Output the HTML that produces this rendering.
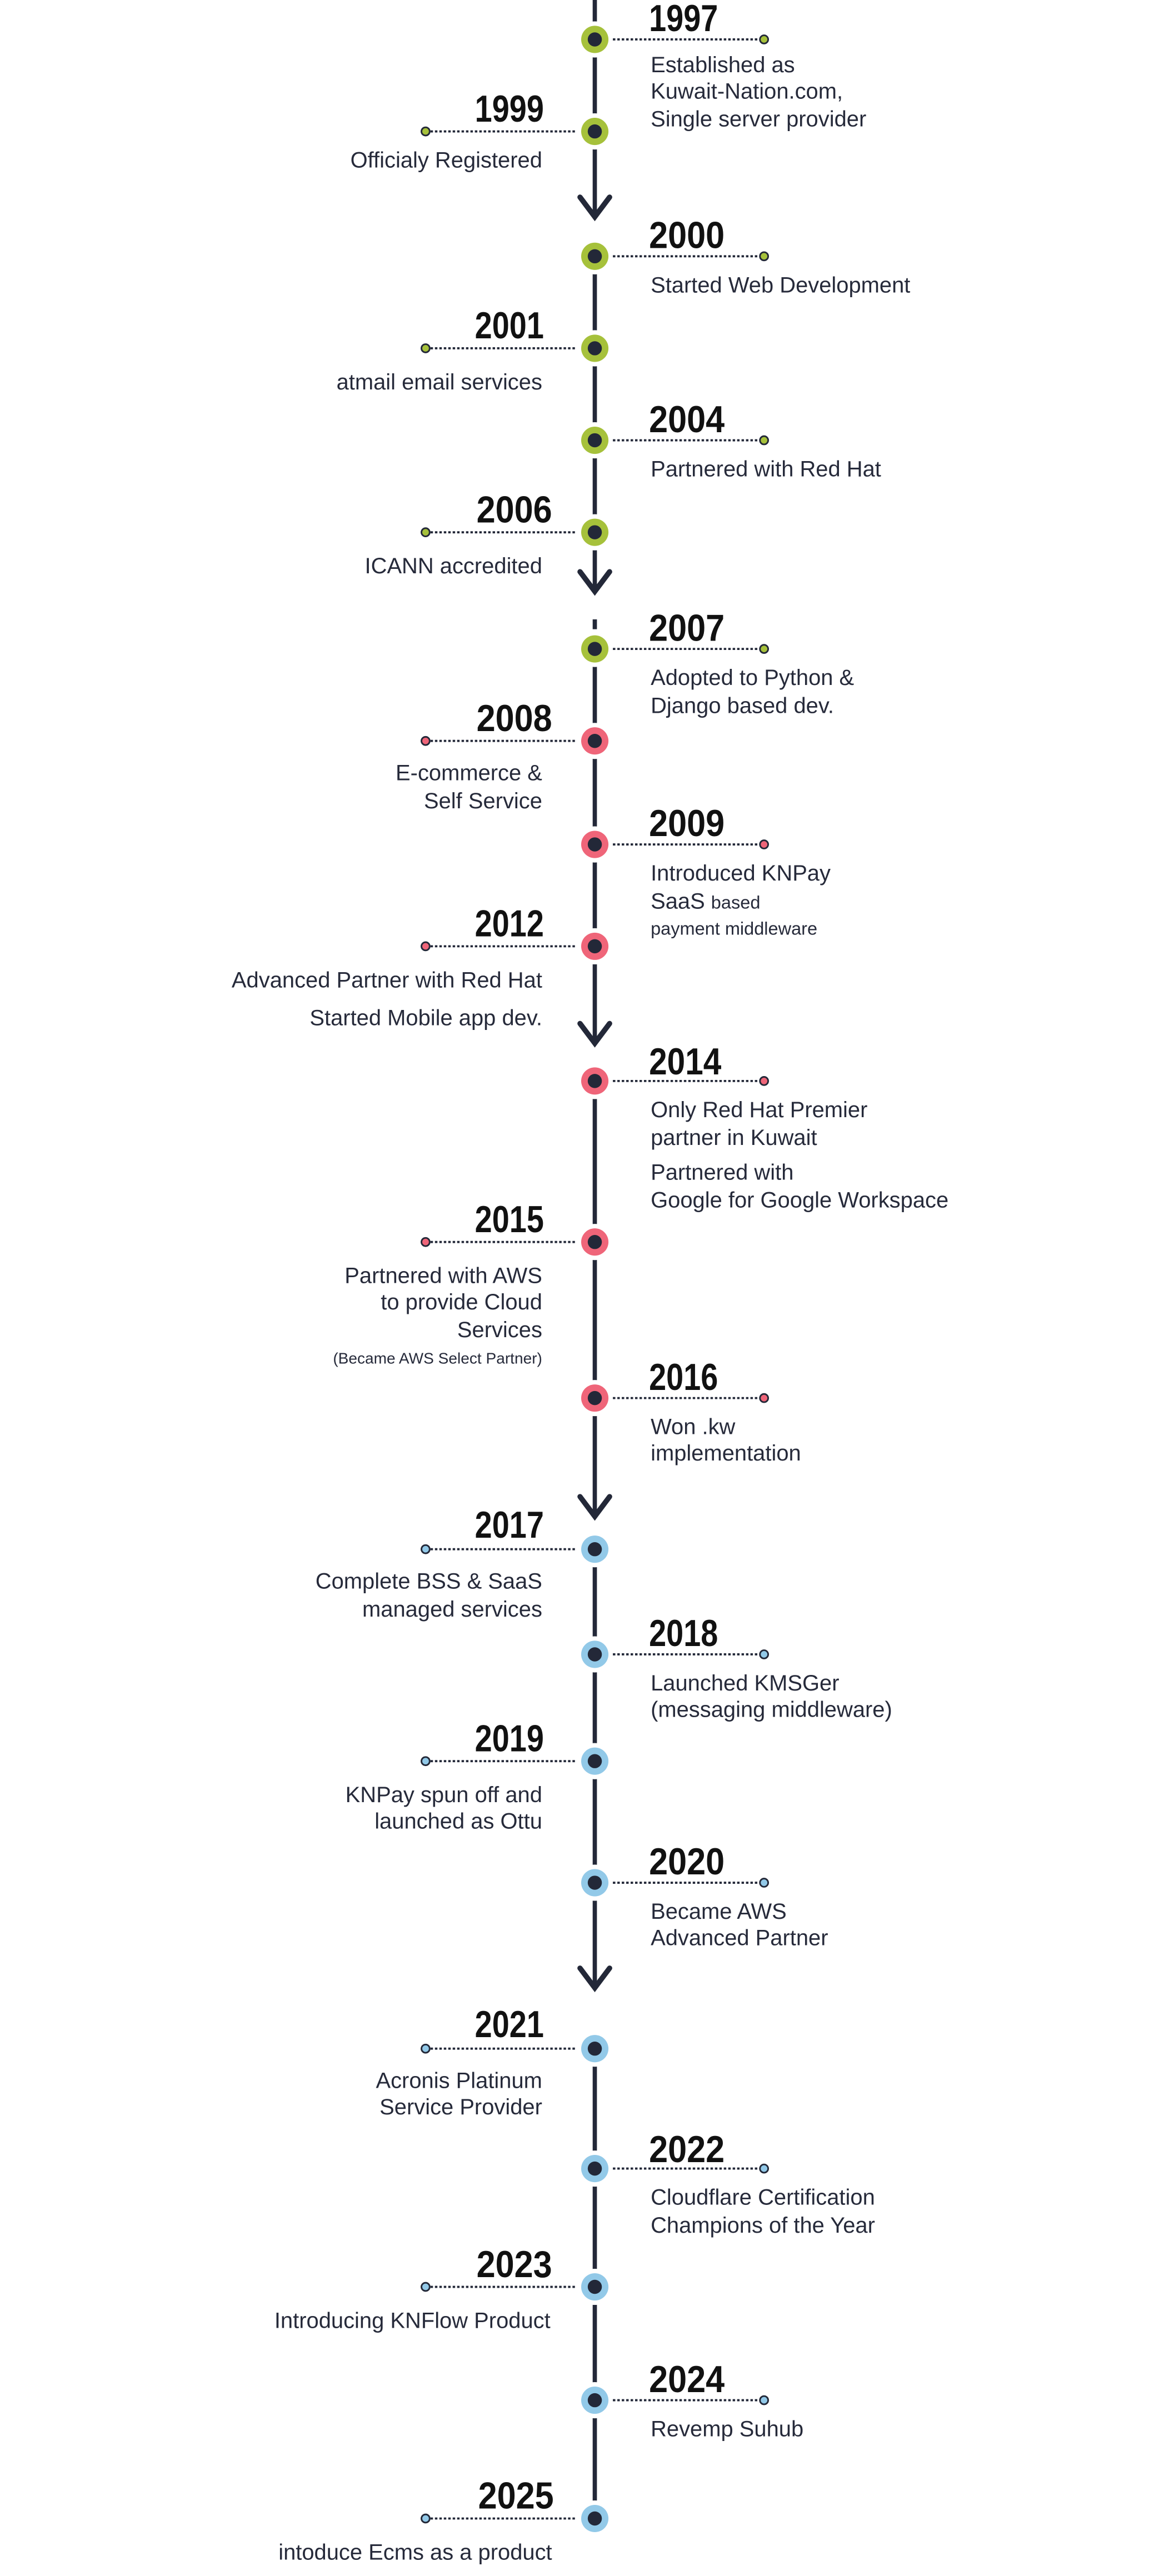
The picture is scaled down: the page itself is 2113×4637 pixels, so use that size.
<!DOCTYPE html>
<html><head><meta charset="utf-8"><style>
html,body{margin:0;padding:0;background:#fff;}
svg{display:block;}
text{font-family:"Liberation Sans",sans-serif;fill:#262a3a;}
.y{font-weight:bold;font-size:23px;fill:#111;}
.d{font-size:13.5px;}
.s{font-size:11px;}
.xs{font-size:9.5px;}
.dl{stroke:#232838;stroke-width:1.3;stroke-dasharray:1.5 1.2;}
.w{fill:#fff;}
.k{fill:#232838;}
.G{fill:#a6c13b;}
.R{fill:#ef6579;}
.B{fill:#92c9e8;}
.e{stroke:#232838;stroke-width:1;}
.rt{text-anchor:end;}
</style></head><body>
<svg width="2113" height="4637" viewBox="0 0 714.5 1568" preserveAspectRatio="none" xmlns="http://www.w3.org/2000/svg">
<g stroke="#232838" stroke-width="2.6" fill="none">
<line x1="362" y1="0" x2="362" y2="131"/>
<line x1="362" y1="146" x2="362" y2="359"/>
<line x1="362" y1="377" x2="362" y2="383"/>
<line x1="362" y1="395" x2="362" y2="634"/>
<line x1="362" y1="648" x2="362" y2="922"/>
<line x1="362" y1="935" x2="362" y2="1209"/>
<line x1="362" y1="1237" x2="362" y2="1540"/>
</g>
<g stroke="#232838" stroke-width="3.2" fill="none" stroke-linecap="round" stroke-linejoin="miter">
<polyline points="353,120 362,132 371,120"/>
<polyline points="353,348 362,360 371,348"/>
<polyline points="353,623 362,635 371,623"/>
<polyline points="353,911 362,923 371,911"/>
<polyline points="353,1198 362,1210 371,1198"/>
</g>

<!-- 1997 -->
<circle class="w" cx="362" cy="24" r="11"/><line class="dl" x1="373" y1="24" x2="462" y2="24"/>
<circle class="G" cx="362" cy="24" r="8.3"/><circle class="k" cx="362" cy="24" r="4.3"/><circle class="G e" cx="465" cy="24" r="2.5"/>
<text class="y" x="395" y="19" textLength="42" lengthAdjust="spacingAndGlyphs">1997</text>
<text class="d" x="396" y="44">Established as</text>
<text class="d" x="396" y="60">Kuwait-Nation.com,</text>
<text class="d" x="396" y="77">Single server provider</text>

<!-- 1999 -->
<circle class="w" cx="362" cy="80" r="11"/><line class="dl" x1="262" y1="80" x2="351" y2="80"/>
<circle class="G" cx="362" cy="80" r="8.3"/><circle class="k" cx="362" cy="80" r="4.3"/><circle class="G e" cx="259" cy="80" r="2.5"/>
<text class="y rt" x="331" y="74" textLength="42" lengthAdjust="spacingAndGlyphs">1999</text>
<text class="d rt" x="330" y="102">Officialy Registered</text>

<!-- 2000 -->
<circle class="w" cx="362" cy="156" r="11"/><line class="dl" x1="373" y1="156" x2="462" y2="156"/>
<circle class="G" cx="362" cy="156" r="8.3"/><circle class="k" cx="362" cy="156" r="4.3"/><circle class="G e" cx="465" cy="156" r="2.5"/>
<text class="y" x="395" y="151" textLength="46" lengthAdjust="spacingAndGlyphs">2000</text>
<text class="d" x="396" y="178">Started Web Development</text>

<!-- 2001 -->
<circle class="w" cx="362" cy="212" r="11"/><line class="dl" x1="262" y1="212" x2="351" y2="212"/>
<circle class="G" cx="362" cy="212" r="8.3"/><circle class="k" cx="362" cy="212" r="4.3"/><circle class="G e" cx="259" cy="212" r="2.5"/>
<text class="y rt" x="331" y="206" textLength="42" lengthAdjust="spacingAndGlyphs">2001</text>
<text class="d rt" x="330" y="237">atmail email services</text>

<!-- 2004 -->
<circle class="w" cx="362" cy="268" r="11"/><line class="dl" x1="373" y1="268" x2="462" y2="268"/>
<circle class="G" cx="362" cy="268" r="8.3"/><circle class="k" cx="362" cy="268" r="4.3"/><circle class="G e" cx="465" cy="268" r="2.5"/>
<text class="y" x="395" y="263" textLength="46" lengthAdjust="spacingAndGlyphs">2004</text>
<text class="d" x="396" y="290">Partnered with Red Hat</text>

<!-- 2006 -->
<circle class="w" cx="362" cy="324" r="11"/><line class="dl" x1="262" y1="324" x2="351" y2="324"/>
<circle class="G" cx="362" cy="324" r="8.3"/><circle class="k" cx="362" cy="324" r="4.3"/><circle class="G e" cx="259" cy="324" r="2.5"/>
<text class="y rt" x="336" y="318" textLength="46" lengthAdjust="spacingAndGlyphs">2006</text>
<text class="d rt" x="330" y="349">ICANN accredited</text>

<!-- 2007 -->
<circle class="w" cx="362" cy="395" r="11"/><line class="dl" x1="373" y1="395" x2="462" y2="395"/>
<circle class="G" cx="362" cy="395" r="8.3"/><circle class="k" cx="362" cy="395" r="4.3"/><circle class="G e" cx="465" cy="395" r="2.5"/>
<text class="y" x="395" y="390" textLength="46" lengthAdjust="spacingAndGlyphs">2007</text>
<text class="d" x="396" y="417">Adopted to Python &amp;</text>
<text class="d" x="396" y="434">Django based dev.</text>

<!-- 2008 -->
<circle class="w" cx="362" cy="451" r="11"/><line class="dl" x1="262" y1="451" x2="351" y2="451"/>
<circle class="R" cx="362" cy="451" r="8.3"/><circle class="k" cx="362" cy="451" r="4.3"/><circle class="R e" cx="259" cy="451" r="2.5"/>
<text class="y rt" x="336" y="445" textLength="46" lengthAdjust="spacingAndGlyphs">2008</text>
<text class="d rt" x="330" y="475">E-commerce &amp;</text>
<text class="d rt" x="330" y="492">Self Service</text>

<!-- 2009 -->
<circle class="w" cx="362" cy="514" r="11"/><line class="dl" x1="373" y1="514" x2="462" y2="514"/>
<circle class="R" cx="362" cy="514" r="8.3"/><circle class="k" cx="362" cy="514" r="4.3"/><circle class="R e" cx="465" cy="514" r="2.5"/>
<text class="y" x="395" y="509" textLength="46" lengthAdjust="spacingAndGlyphs">2009</text>
<text class="d" x="396" y="536">Introduced KNPay</text>
<text class="d" x="396" y="553">SaaS <tspan class="s">based</tspan></text>
<text class="s" x="396" y="569">payment middleware</text>

<!-- 2012 -->
<circle class="w" cx="362" cy="576" r="11"/><line class="dl" x1="262" y1="576" x2="351" y2="576"/>
<circle class="R" cx="362" cy="576" r="8.3"/><circle class="k" cx="362" cy="576" r="4.3"/><circle class="R e" cx="259" cy="576" r="2.5"/>
<text class="y rt" x="331" y="570" textLength="42" lengthAdjust="spacingAndGlyphs">2012</text>
<text class="d rt" x="330" y="601">Advanced Partner with Red Hat</text>
<text class="d rt" x="330" y="624">Started Mobile app dev.</text>

<!-- 2014 -->
<circle class="w" cx="362" cy="658" r="11"/><line class="dl" x1="373" y1="658" x2="462" y2="658"/>
<circle class="R" cx="362" cy="658" r="8.3"/><circle class="k" cx="362" cy="658" r="4.3"/><circle class="R e" cx="465" cy="658" r="2.5"/>
<text class="y" x="395" y="654" textLength="44" lengthAdjust="spacingAndGlyphs">2014</text>
<text class="d" x="396" y="680">Only Red Hat Premier</text>
<text class="d" x="396" y="697">partner in Kuwait</text>
<text class="d" x="396" y="718">Partnered with</text>
<text class="d" x="396" y="735">Google for Google Workspace</text>

<!-- 2015 -->
<circle class="w" cx="362" cy="756" r="11"/><line class="dl" x1="262" y1="756" x2="351" y2="756"/>
<circle class="R" cx="362" cy="756" r="8.3"/><circle class="k" cx="362" cy="756" r="4.3"/><circle class="R e" cx="259" cy="756" r="2.5"/>
<text class="y rt" x="331" y="750" textLength="42" lengthAdjust="spacingAndGlyphs">2015</text>
<text class="d rt" x="330" y="781">Partnered with AWS</text>
<text class="d rt" x="330" y="797">to provide Cloud</text>
<text class="d rt" x="330" y="814">Services</text>
<text class="xs rt" x="330" y="830">(Became AWS Select Partner)</text>

<!-- 2016 -->
<circle class="w" cx="362" cy="851" r="11"/><line class="dl" x1="373" y1="851" x2="462" y2="851"/>
<circle class="R" cx="362" cy="851" r="8.3"/><circle class="k" cx="362" cy="851" r="4.3"/><circle class="R e" cx="465" cy="851" r="2.5"/>
<text class="y" x="395" y="846" textLength="42" lengthAdjust="spacingAndGlyphs">2016</text>
<text class="d" x="396" y="873">Won .kw</text>
<text class="d" x="396" y="889">implementation</text>

<!-- 2017 -->
<circle class="w" cx="362" cy="943" r="11"/><line class="dl" x1="262" y1="943" x2="351" y2="943"/>
<circle class="B" cx="362" cy="943" r="8.3"/><circle class="k" cx="362" cy="943" r="4.3"/><circle class="B e" cx="259" cy="943" r="2.5"/>
<text class="y rt" x="331" y="936" textLength="42" lengthAdjust="spacingAndGlyphs">2017</text>
<text class="d rt" x="330" y="967">Complete BSS &amp; SaaS</text>
<text class="d rt" x="330" y="984">managed services</text>

<!-- 2018 -->
<circle class="w" cx="362" cy="1007" r="11"/><line class="dl" x1="373" y1="1007" x2="462" y2="1007"/>
<circle class="B" cx="362" cy="1007" r="8.3"/><circle class="k" cx="362" cy="1007" r="4.3"/><circle class="B e" cx="465" cy="1007" r="2.5"/>
<text class="y" x="395" y="1002" textLength="42" lengthAdjust="spacingAndGlyphs">2018</text>
<text class="d" x="396" y="1029">Launched KMSGer</text>
<text class="d" x="396" y="1045">(messaging middleware)</text>

<!-- 2019 -->
<circle class="w" cx="362" cy="1072" r="11"/><line class="dl" x1="262" y1="1072" x2="351" y2="1072"/>
<circle class="B" cx="362" cy="1072" r="8.3"/><circle class="k" cx="362" cy="1072" r="4.3"/><circle class="B e" cx="259" cy="1072" r="2.5"/>
<text class="y rt" x="331" y="1066" textLength="42" lengthAdjust="spacingAndGlyphs">2019</text>
<text class="d rt" x="330" y="1097">KNPay spun off and</text>
<text class="d rt" x="330" y="1113">launched as Ottu</text>

<!-- 2020 -->
<circle class="w" cx="362" cy="1146" r="11"/><line class="dl" x1="373" y1="1146" x2="462" y2="1146"/>
<circle class="B" cx="362" cy="1146" r="8.3"/><circle class="k" cx="362" cy="1146" r="4.3"/><circle class="B e" cx="465" cy="1146" r="2.5"/>
<text class="y" x="395" y="1141" textLength="46" lengthAdjust="spacingAndGlyphs">2020</text>
<text class="d" x="396" y="1168">Became AWS</text>
<text class="d" x="396" y="1184">Advanced Partner</text>

<!-- 2021 -->
<circle class="w" cx="362" cy="1247" r="11"/><line class="dl" x1="262" y1="1247" x2="351" y2="1247"/>
<circle class="B" cx="362" cy="1247" r="8.3"/><circle class="k" cx="362" cy="1247" r="4.3"/><circle class="B e" cx="259" cy="1247" r="2.5"/>
<text class="y rt" x="331" y="1240" textLength="42" lengthAdjust="spacingAndGlyphs">2021</text>
<text class="d rt" x="330" y="1271">Acronis Platinum</text>
<text class="d rt" x="330" y="1287">Service Provider</text>

<!-- 2022 -->
<circle class="w" cx="362" cy="1320" r="11"/><line class="dl" x1="373" y1="1320" x2="462" y2="1320"/>
<circle class="B" cx="362" cy="1320" r="8.3"/><circle class="k" cx="362" cy="1320" r="4.3"/><circle class="B e" cx="465" cy="1320" r="2.5"/>
<text class="y" x="395" y="1316" textLength="46" lengthAdjust="spacingAndGlyphs">2022</text>
<text class="d" x="396" y="1342">Cloudflare Certification</text>
<text class="d" x="396" y="1359">Champions of the Year</text>

<!-- 2023 -->
<circle class="w" cx="362" cy="1392" r="11"/><line class="dl" x1="262" y1="1392" x2="351" y2="1392"/>
<circle class="B" cx="362" cy="1392" r="8.3"/><circle class="k" cx="362" cy="1392" r="4.3"/><circle class="B e" cx="259" cy="1392" r="2.5"/>
<text class="y rt" x="336" y="1386" textLength="46" lengthAdjust="spacingAndGlyphs">2023</text>
<text class="d rt" x="335" y="1417">Introducing KNFlow Product</text>

<!-- 2024 -->
<circle class="w" cx="362" cy="1461" r="11"/><line class="dl" x1="373" y1="1461" x2="462" y2="1461"/>
<circle class="B" cx="362" cy="1461" r="8.3"/><circle class="k" cx="362" cy="1461" r="4.3"/><circle class="B e" cx="465" cy="1461" r="2.5"/>
<text class="y" x="395" y="1456" textLength="46" lengthAdjust="spacingAndGlyphs">2024</text>
<text class="d" x="396" y="1483">Revemp Suhub</text>

<!-- 2025 -->
<circle class="w" cx="362" cy="1533" r="11"/><line class="dl" x1="262" y1="1533" x2="351" y2="1533"/>
<circle class="B" cx="362" cy="1533" r="8.3"/><circle class="k" cx="362" cy="1533" r="4.3"/><circle class="B e" cx="259" cy="1533" r="2.5"/>
<text class="y rt" x="337" y="1527" textLength="46" lengthAdjust="spacingAndGlyphs">2025</text>
<text class="d rt" x="336" y="1558">intoduce Ecms as a product</text>
</svg>
</body></html>
